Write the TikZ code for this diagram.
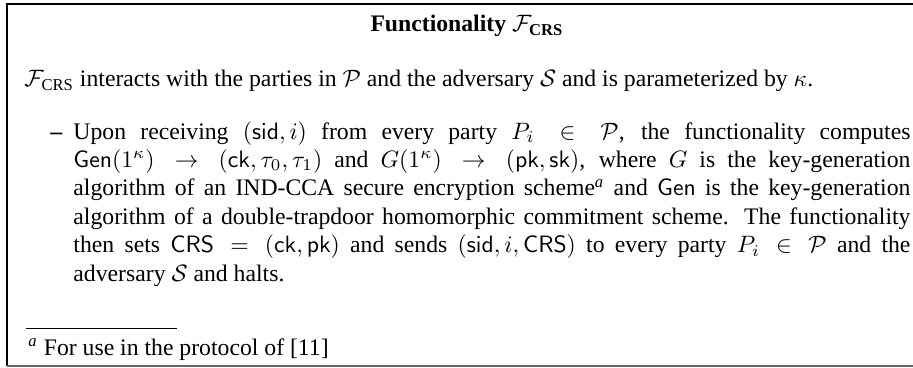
\documentclass[tikz,border=0pt]{standalone}
\usepackage[no-math]{fontspec}
\setmainfont{Liberation Serif}
\usepackage{amsmath}
\begin{document}
\begin{tikzpicture}[x=0.4219pt,y=-0.4219pt,
  frameline/.style={line width=0.6pt,black},
  bodytext/.style={inner sep=0pt,font=\fontsize{10}{12}\selectfont},
  fnrule/.style={line width=0.4pt}]
\useasboundingbox (0,0) rectangle (913,368);
% box frame (right side runs past the edge)
\draw[frameline] (913,4) -- (7,4) -- (7,366);
\draw[line width=1pt,black!60] (7,366) -- (913,366);
% heading
\node[inner sep=0pt,anchor=base,font=\fontsize{10}{12}\bfseries] (title) at (467,32)
  {Functionality $\mathcal{F}_{\text{CRS}}$};
% introductory sentence
\node[bodytext,anchor=base west] (intro) at (24,87)
  {$\mathcal{F}_{\text{CRS}}$ interacts with the parties in $\mathcal{P}$ and the adversary $\mathcal{S}$ and is parameterized by $\kappa$.};
% list item
\node[bodytext,anchor=base west] (dash) at (50,139) {\textbf{--}};
\node[bodytext,anchor=base west,text width=837*0.4219pt,align=justify] (item) at (73,139)
  {Upon receiving $(\mathsf{sid},i)$ from every party $P_i \in \mathcal{P}$, the functionality computes\linebreak
   $\mathsf{Gen}(1^\kappa) \rightarrow (\mathsf{ck},\tau_0,\tau_1)$ and $G(1^\kappa) \rightarrow (\mathsf{pk},\mathsf{sk})$, where $G$ is the key-generation\linebreak
   algorithm of an IND-CCA secure encryption scheme\textsuperscript{\itshape a} and $\mathsf{Gen}$ is the key-generation\linebreak
   algorithm of a double-trapdoor homomorphic commitment scheme. The functionality\linebreak
   then sets $\mathsf{CRS} = (\mathsf{ck},\mathsf{pk})$ and sends $(\mathsf{sid},i,\mathsf{CRS})$ to every party $P_i \in \mathcal{P}$ and the\linebreak
   adversary $\mathcal{S}$ and halts.};
% footnote
\coordinate (fnA) at (26,328);
\coordinate (fnB) at (177,328);
\draw[fnrule] (fnA) -- (fnB);
\node[bodytext,anchor=base west] (fn) at (28,355)
  {\textsuperscript{\itshape a} For use in the protocol of [11]};
\end{tikzpicture}
\end{document}
